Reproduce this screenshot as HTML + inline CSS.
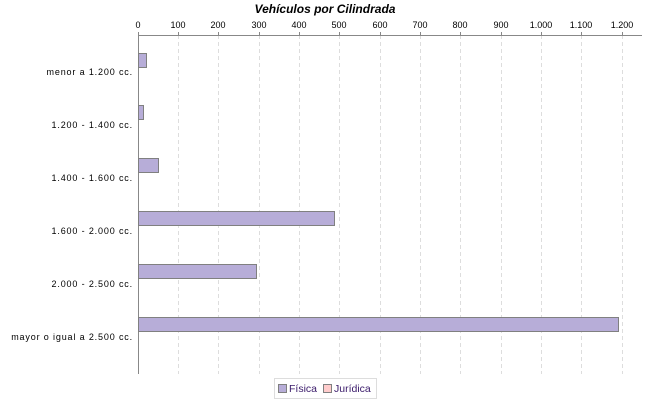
<!DOCTYPE html>
<html><head><meta charset="utf-8"><style>
body{margin:0;background:#fff;}
svg{display:block;font-family:"Liberation Sans",sans-serif;}
</style></head><body>
<svg width="650" height="400" xmlns="http://www.w3.org/2000/svg">
<rect width="650" height="400" fill="#fff"/>
<text x="325" y="13" text-anchor="middle" font-size="12" font-weight="bold" font-style="italic" fill="#000">Vehículos por Cilindrada</text>
<g stroke="#ddd" stroke-dasharray="4,3">
<line x1="178.5" y1="35" x2="178.5" y2="374"/>
<line x1="218.5" y1="35" x2="218.5" y2="374"/>
<line x1="259.5" y1="35" x2="259.5" y2="374"/>
<line x1="299.5" y1="35" x2="299.5" y2="374"/>
<line x1="339.5" y1="35" x2="339.5" y2="374"/>
<line x1="380.5" y1="35" x2="380.5" y2="374"/>
<line x1="420.5" y1="35" x2="420.5" y2="374"/>
<line x1="460.5" y1="35" x2="460.5" y2="374"/>
<line x1="501.5" y1="35" x2="501.5" y2="374"/>
<line x1="541.5" y1="35" x2="541.5" y2="374"/>
<line x1="581.5" y1="35" x2="581.5" y2="374"/>
<line x1="622.5" y1="35" x2="622.5" y2="374"/>
</g>
<g stroke="#888">
<line x1="138" y1="35.5" x2="642" y2="35.5"/>
<line x1="138.5" y1="35" x2="138.5" y2="374"/>
<line x1="138.5" y1="32" x2="138.5" y2="35"/>
<line x1="178.5" y1="32" x2="178.5" y2="35"/>
<line x1="218.5" y1="32" x2="218.5" y2="35"/>
<line x1="259.5" y1="32" x2="259.5" y2="35"/>
<line x1="299.5" y1="32" x2="299.5" y2="35"/>
<line x1="339.5" y1="32" x2="339.5" y2="35"/>
<line x1="380.5" y1="32" x2="380.5" y2="35"/>
<line x1="420.5" y1="32" x2="420.5" y2="35"/>
<line x1="460.5" y1="32" x2="460.5" y2="35"/>
<line x1="501.5" y1="32" x2="501.5" y2="35"/>
<line x1="541.5" y1="32" x2="541.5" y2="35"/>
<line x1="581.5" y1="32" x2="581.5" y2="35"/>
<line x1="622.5" y1="32" x2="622.5" y2="35"/>
</g>
<g font-size="9" text-anchor="middle" fill="#000">
<text x="138" y="28">0</text><text x="178" y="28">100</text><text x="218" y="28">200</text>
<text x="259" y="28">300</text><text x="299" y="28">400</text><text x="339" y="28">500</text>
<text x="380" y="28">600</text><text x="420" y="28">700</text><text x="460" y="28">800</text>
<text x="501" y="28">900</text><text x="541" y="28">1.000</text><text x="581" y="28">1.100</text>
<text x="622" y="28">1.200</text>
</g>
<g fill="#b7add8" stroke="#808080">
<rect x="138.5" y="53.5" width="8" height="14"/>
<rect x="138.5" y="105.5" width="5" height="14"/>
<rect x="138.5" y="158.5" width="20" height="14"/>
<rect x="138.5" y="211.5" width="196" height="14"/>
<rect x="138.5" y="264.5" width="118" height="14"/>
<rect x="138.5" y="317.5" width="480" height="14"/>
</g>
<g font-size="9" text-anchor="end" fill="#000" letter-spacing="0.85">
<text x="133" y="75">menor a 1.200 cc.</text>
<text x="133" y="128">1.200 - 1.400 cc.</text>
<text x="133" y="181">1.400 - 1.600 cc.</text>
<text x="133" y="234">1.600 - 2.000 cc.</text>
<text x="133" y="287">2.000 - 2.500 cc.</text>
<text x="133" y="340">mayor o igual a 2.500 cc.</text>
</g>
<rect x="274.5" y="378.5" width="102" height="20" fill="#fff" stroke="#ddd"/>
<rect x="278.5" y="384.5" width="8" height="8" fill="#b7add8" stroke="#808080"/>
<text x="289" y="392" font-size="10.5" fill="#3a1a6a">Física</text>
<rect x="323.5" y="384.5" width="8" height="8" fill="#ffcccc" stroke="#808080"/>
<text x="334" y="392" font-size="10.5" fill="#3a1a6a">Jurídica</text>
</svg>
</body></html>
